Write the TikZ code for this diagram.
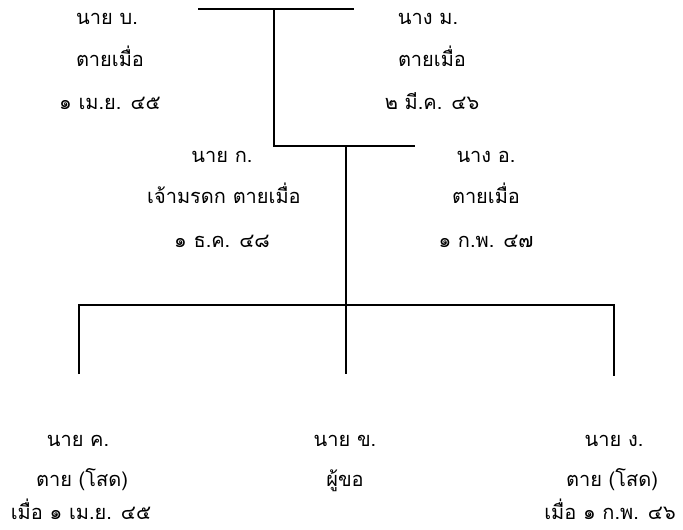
\documentclass[tikz,border=0pt]{standalone}
\usepackage{fontspec}
\newfontfamily\thaifont[Script=Thai]{Loma}
\begin{document}
\begin{tikzpicture}[x=1pt,y=-1pt,
  txt/.style={font=\thaifont\fontsize{20}{24}\selectfont, anchor=base, inner sep=0pt},
  link/.style={line width=1.3pt}]
\useasboundingbox (0,0) rectangle (683,530);

% grandparents
\node[txt] (bo)     at (107,24)  {นาย บ.};
\node[txt] (bo-d)   at (110,66)  {ตายเมื่อ};
\node[txt] (bo-dt)  at (110,109) {๑ เม.ย. ๔๕};
\node[txt] (mo)     at (428,24)  {นาง ม.};
\node[txt] (mo-d)   at (432,66)  {ตายเมื่อ};
\node[txt] (mo-dt)  at (432,109) {๒ มี.ค. ๔๖};

% parents
\node[txt] (ko)     at (222,162) {นาย ก.};
\node[txt] (ko-d)   at (224,203) {เจ้ามรดก ตายเมื่อ};
\node[txt] (ko-dt)  at (222,247) {๑ ธ.ค. ๔๘};
\node[txt] (oo)     at (486,162) {นาง อ.};
\node[txt] (oo-d)   at (486,203) {ตายเมื่อ};
\node[txt] (oo-dt)  at (486,247) {๑ ก.พ. ๔๗};

% children
\node[txt] (kho)    at (78,446)  {นาย ค.};
\node[txt] (kho-d)  at (82,486)  {ตาย (โสด)};
\node[txt] (kho-dt) at (81,519)  {เมื่อ ๑ เม.ย. ๔๕};
\node[txt] (kh)     at (345,446) {นาย ข.};
\node[txt] (kh-d)   at (345,486) {ผู้ขอ};
\node[txt] (ng)     at (614,446) {นาย ง.};
\node[txt] (ng-d)   at (612,486) {ตาย (โสด)};
\node[txt] (ng-dt)  at (610,519) {เมื่อ ๑ ก.พ. ๔๖};

% junction points of the family lines
\coordinate (m1l) at (198,9);
\coordinate (m1r) at (354,9);
\coordinate (m1)  at (274,9);
\coordinate (d1)  at (274,146);
\coordinate (m2r) at (415,146);
\coordinate (m2)  at (346,146);
\coordinate (bus) at (346,305);
\coordinate (busl) at (79,305);
\coordinate (busr) at (614,305);
\coordinate (c1) at (79,374);
\coordinate (c2) at (346,374);
\coordinate (c3) at (614,376);

\draw[link] (m1l) -- (m1r);
\draw[link] (m1) -- (d1) -- (m2r);
\draw[link] (m2) -- (bus);
\draw[link] (c1) -- (busl) -- (busr) -- (c3);
\draw[link] (bus) -- (c2);
\end{tikzpicture}
\end{document}
